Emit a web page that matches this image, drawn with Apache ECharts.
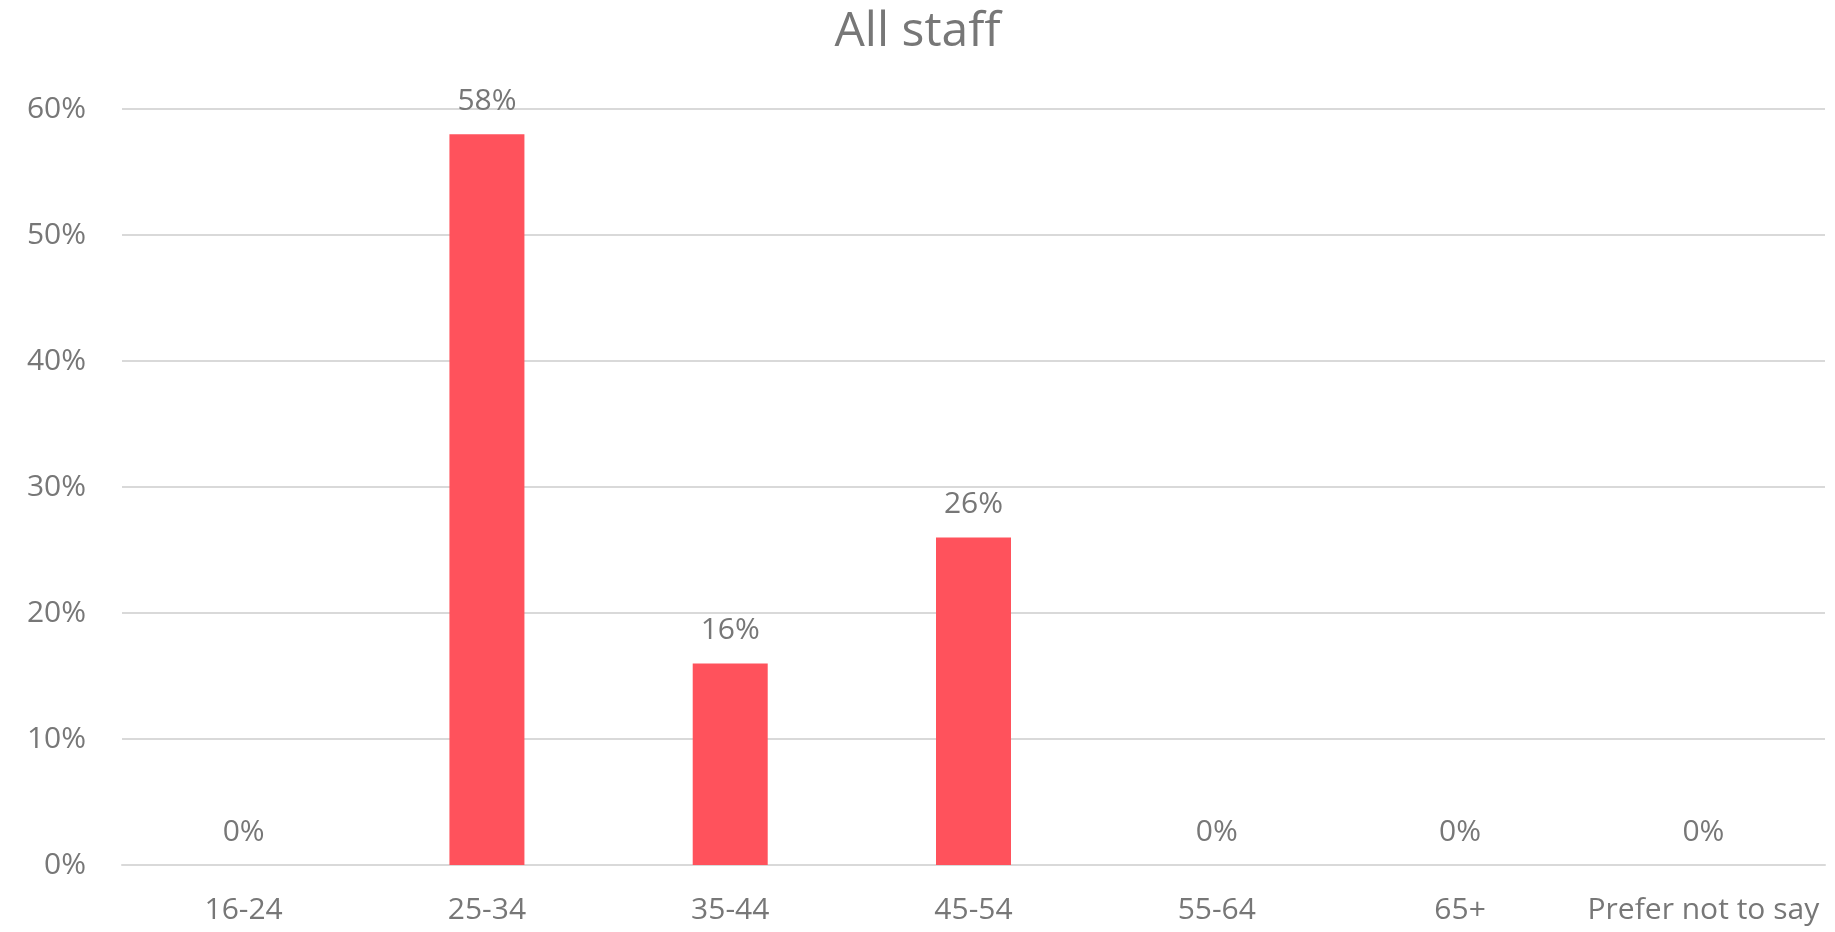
<!DOCTYPE html>
<html>
<head>
<meta charset="utf-8">
<script src="https://cdn.jsdelivr.net/npm/echarts@6/dist/echarts.min.js"></script>
<style>html,body{margin:0;padding:0;background:#fff}#c{width:1835px;height:932px}</style>
</head>
<body>
<div id="c"></div>
<script>
const categories = ['16-24', '25-34', '35-44', '45-54', '55-64', '65+', 'Prefer not to say'];
const values = [0, 58, 16, 26, 0, 0, 0];
const yTicks = [0, 10, 20, 30, 40, 50, 60];

const font = '"Open Sans", "Noto Sans", sans-serif';
const gray = '#777777';
const chart = echarts.init(document.getElementById('c'));
chart.setOption({
  backgroundColor: '#ffffff',
  animation: false,
  title: {
    text: 'All staff',
    left: 'center',
    top: 3,
    textStyle: { fontFamily: font, fontSize: 48, fontWeight: 'normal', color: gray }
  },
  grid: { left: 122, right: 10, top: 109, bottom: 67, containLabel: false },
  xAxis: {
    type: 'category',
    data: categories,
    axisLine: { show: true, lineStyle: { color: '#d9d9d9', width: 2 } },
    axisTick: { show: false },
    axisLabel: { fontFamily: font, fontSize: 30, color: gray, margin: 30, interval: 0 }
  },
  yAxis: {
    type: 'value',
    min: yTicks[0],
    max: yTicks[yTicks.length - 1],
    interval: 10,
    axisLine: { show: false },
    axisTick: { show: false },
    splitLine: { lineStyle: { color: '#d9d9d9', width: 2 } },
    axisLabel: { fontFamily: font, fontSize: 30, color: gray, margin: 36, formatter: v => v + '%' }
  },
  series: [{
    type: 'bar',
    data: values,
    barWidth: 75,
    itemStyle: { color: '#ff525c' },
    label: {
      show: true,
      position: 'top',
      distance: 18,
      fontFamily: font,
      fontSize: 30,
      color: gray,
      formatter: p => p.value + '%'
    }
  }]
});
</script>
</body>
</html>
